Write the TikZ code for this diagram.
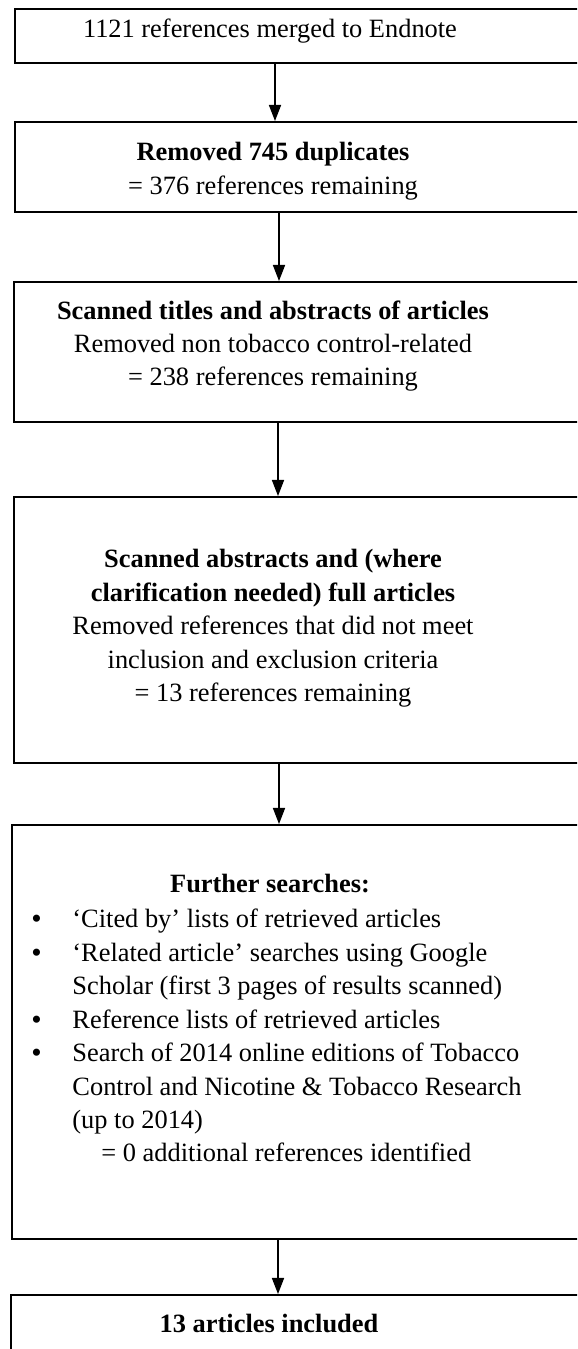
\documentclass[tikz,border=0pt]{standalone}
\usepackage{fontspec}
\setmainfont{Liberation Serif}
\usetikzlibrary{arrows.meta,positioning}
\newlength\px
\setlength\px{0.4545pt}
\newcommand\listbullet{\smash{\raisebox{-0.5pt}{\fontsize{13.5}{15}\selectfont\textbullet}}}

\begin{document}
\begin{tikzpicture}[x=\px, y=-\px,
    stepbox/.style={draw, line width=0.8pt, anchor=north west, inner sep=0pt, minimum width=590\px},
    steptext/.style={anchor=north, inner sep=0pt, align=center, font=\fontsize{12}{15.2}\selectfont},
    arr/.style={-{Triangle[length=7.3pt, width=5.5pt]}, line width=0.6pt}
  ]
  \useasboundingbox (0,0) rectangle (577,1349);
  \clip (0,0) rectangle (577,1349);

  % boxes (right edges run off the page)
  \node[stepbox, minimum height=54\px] (s1) at (14,8) {};
  \node[stepbox, minimum height=90\px] (s2) at (14,121) {};
  \node[stepbox, minimum height=140\px] (s3) at (13,281) {};
  \node[stepbox, minimum height=266\px] (s4) at (13,496) {};
  \node[stepbox, minimum height=414\px] (s5) at (11,824) {};
  \node[stepbox, minimum height=120\px] (s6) at (10,1294) {};

  % texts
  \node[steptext] (t1) at (270,18) {1121 references merged to Endnote};
  \node[steptext] (t2) at (273,142) {\textbf{Removed 745 duplicates}\\= 376 references remaining};
  \node[steptext] (t3) at (273,300) {\textbf{Scanned titles and abstracts of articles}\\Removed non tobacco control-related\\= 238 references remaining};
  \node[steptext] (t4) at (273,549) {\textbf{Scanned abstracts and (where}\\\textbf{clarification needed) full articles}\\Removed references that did not meet\\inclusion and exclusion criteria\\= 13 references remaining};
  \node[steptext] (t5) at (270,874) {\textbf{Further searches:}};
  \node[anchor=north west, inner sep=0pt, font=\fontsize{12}{15.2}\selectfont] (l5) at (31,904) {%
    \begin{tabular}{@{}p{41\px}@{}l@{}}
      \listbullet & ‘Cited by’ lists of retrieved articles\\
      \listbullet & ‘Related article’ searches using Google\\
                  & Scholar (first 3 pages of results scanned)\\
      \listbullet & Reference lists of retrieved articles\\
      \listbullet & Search of 2014 online editions of Tobacco\\
                  & Control and Nicotine \& Tobacco Research\\
                  & (up to 2014)\\
                  & \hspace{29\px}= 0 additional references identified
    \end{tabular}};
  \node[steptext] (t6) at (269,1314) {\textbf{13 articles included}};

  % connectors
  \coordinate (c1) at (275,0);
  \coordinate (c2) at (279,0);
  \coordinate (c3) at (278,0);
  \draw[arr] (s1.south -| c1) -- (s2.north -| c1);
  \draw[arr] (s2.south -| c2) -- (s3.north -| c2);
  \draw[arr] (s3.south -| c3) -- (s4.north -| c3);
  \draw[arr] (s4.south -| c2) -- (s5.north -| c2);
  \draw[arr] (s5.south -| c3) -- (s6.north -| c3);
\end{tikzpicture}
\end{document}
